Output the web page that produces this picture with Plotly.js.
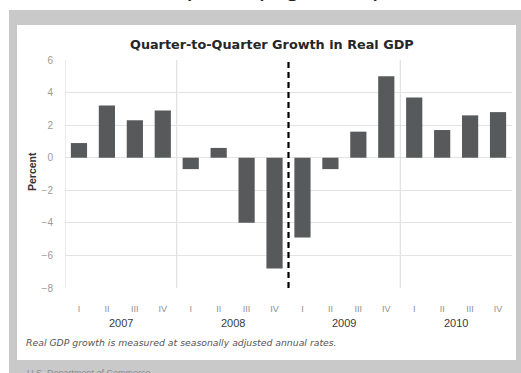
<!DOCTYPE html>
<html>
<head>
<meta charset="utf-8">
<script src="https://cdn.plot.ly/plotly-3.0.1.min.js"></script>
<style>html,body{margin:0;padding:0;background:#fff;}#chart{width:521px;height:373px;}</style>
</head>
<body>
<div id="chart"></div>
<script>
// ---- data ----
var quarters = ["I","II","III","IV","I","II","III","IV","I","II","III","IV","I","II","III","IV"];
var years = ["2007","2008","2009","2010"];
var growth = [0.9, 3.2, 2.3, 2.9, -0.7, 0.6, -4.0, -6.8, -4.9, -0.7, 1.6, 5.0, 3.7, 1.7, 2.6, 2.8];
var yTicks = [-8, -6, -4, -2, 0, 2, 4, 6];
var chartTitle = "Quarter-to-Quarter Growth in Real GDP";
var yTitle = "Percent";
var footnote = "Real GDP growth is measured at seasonally adjusted annual rates.";
var topTextA = "Economic Snapshot";
var topTextB = "(Figure 10)";
var sourceText = "U.S. Department of Commerce";

// ---- geometry helpers (pixel -> paper) ----
var W = 521, H = 373, L = 65, R = 9, T = 60, B = 85;
var PW = W - L - R, PH = H - T - B;
function px(X){ return (X - L) / PW; }
function py(Y){ return (H - B - Y) / PH; }

var xIdx = quarters.map(function(_, i){ return i; });
var FONT = 'Liberation Sans, Arial, sans-serif';
var WIDE = 'DejaVu Sans, Verdana, sans-serif';

var shapes = [
  {type:'rect', xref:'paper', yref:'paper', x0:px(9), x1:px(521), y0:py(373), y1:py(10),
   fillcolor:'#c9c9c9', line:{width:0}, layer:'below'},
  {type:'rect', xref:'paper', yref:'paper', x0:px(17), x1:px(516), y0:py(360), y1:py(25),
   fillcolor:'#ffffff', line:{width:0}, layer:'below'},
  {type:'line', xref:'x', yref:'y', x0:-0.5, x1:-0.5, y0:-8, y1:6, line:{color:'#d9d9d9', width:1}, layer:'below'},
  {type:'line', xref:'x', yref:'y', x0:3.5, x1:3.5, y0:-8, y1:6, line:{color:'#d9d9d9', width:1}, layer:'below'},
  {type:'line', xref:'x', yref:'y', x0:11.5, x1:11.5, y0:-8, y1:6, line:{color:'#d9d9d9', width:1}, layer:'below'},
  {type:'line', xref:'x', yref:'y', x0:7.5, x1:7.5, y0:-8, y1:6, line:{color:'#000000', width:2.2, dash:'6px,4px'}, layer:'above'}
];

var annotations = [
  {text:'<b>'+chartTitle+'</b>', xref:'paper', yref:'paper', x:px(272), y:py(45),
   xanchor:'center', yanchor:'middle', showarrow:false,
   font:{family:WIDE, size:12.8, color:'#262626'}},
  {text:'<b>'+yTitle+'</b>', xref:'paper', yref:'paper', x:px(32), y:py(172),
   xanchor:'center', yanchor:'middle', textangle:-90, showarrow:false,
   font:{family:FONT, size:10.5, color:'#333'}},
  {text:'<i>'+footnote+'</i>', xref:'paper', yref:'paper', x:px(24), y:py(342),
   xanchor:'left', yanchor:'middle', showarrow:false,
   font:{family:WIDE, size:9.3, color:'#555'}},
  {text:topTextA, xref:'paper', yref:'paper', x:px(253), y:py(4.5),
   xanchor:'right', yanchor:'bottom', showarrow:false,
   font:{family:FONT, size:26, color:'#222'}},
  {text:topTextB, xref:'paper', yref:'paper', x:px(253), y:py(4.5),
   xanchor:'left', yanchor:'bottom', showarrow:false,
   font:{family:FONT, size:26, color:'#222'}},
  {text:sourceText, xref:'paper', yref:'paper', x:px(25), y:py(366),
   xanchor:'left', yanchor:'top', showarrow:false,
   font:{family:FONT, size:9, color:'#8a8a8a'}}
];
years.forEach(function(yr, k){
  annotations.push({text:yr, xref:'x', yref:'paper', x:4*k+1.5, y:py(323),
    xanchor:'center', yanchor:'middle', showarrow:false,
    font:{family:FONT, size:11, color:'#3a3a3a'}});
});

var data = [{
  type:'bar', x:xIdx, y:growth,
  marker:{color:'#58595b', line:{width:0}},
  hoverinfo:'skip'
}];

var layout = {
  width:W, height:H,
  margin:{l:L, r:R, t:T, b:B, pad:0},
  paper_bgcolor:'#ffffff', plot_bgcolor:'rgba(0,0,0,0)',
  showlegend:false, bargap:0.42,
  xaxis:{range:[-0.5, 15.5], tickvals:xIdx, ticktext:quarters, showgrid:false, zeroline:false,
         showline:false, ticks:'outside', ticklen:12, tickcolor:'rgba(0,0,0,0)',
         tickfont:{family:FONT, size:9, color:'#909090'}, fixedrange:true},
  yaxis:{range:[-8, 6], tickvals:yTicks, showgrid:true, gridcolor:'#e3e3e3', gridwidth:1,
         zeroline:false, showline:false, ticks:'outside', ticklen:9, tickcolor:'rgba(0,0,0,0)',
         tickfont:{family:FONT, size:10, color:'#9a9a9a'}, fixedrange:true},
  shapes:shapes, annotations:annotations
};

Plotly.newPlot('chart', data, layout, {displayModeBar:false, staticPlot:true});
</script>
</body>
</html>
